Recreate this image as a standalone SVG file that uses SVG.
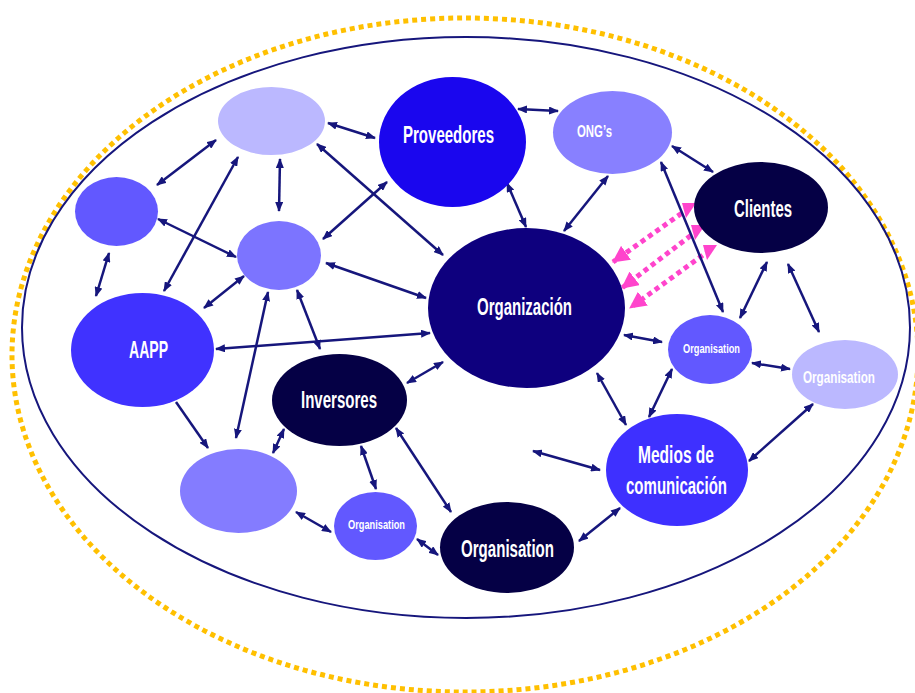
<svg xmlns="http://www.w3.org/2000/svg" width="915" height="693" viewBox="0 0 915 693">
<defs>
<marker id="ah" markerUnits="userSpaceOnUse" markerWidth="10" markerHeight="8" viewBox="0 0 10 8" refX="9" refY="4" orient="auto-start-reverse">
<path d="M0,0 L10,4 L0,8 z" fill="#16167c"/>
</marker>
<marker id="ph" markerUnits="userSpaceOnUse" markerWidth="17" markerHeight="17" viewBox="0 0 16 16" refX="15" refY="8" orient="auto">
<path d="M0,0 L16,8 L0,16 z" fill="#ff44cc"/>
</marker>
<marker id="pt" markerUnits="userSpaceOnUse" markerWidth="16" markerHeight="16" viewBox="0 0 16 16" refX="8" refY="5" orient="0">
<path d="M1,0 L15,0 L5,15 z" fill="#ff44cc"/>
</marker>
</defs>
<style>
.edge{stroke:#16167c;stroke-width:2.5;fill:none;marker-start:url(#ah);marker-end:url(#ah)}
.edge1{stroke:#16167c;stroke-width:2.5;fill:none;marker-end:url(#ah)}
.pink{stroke:#ff44cc;stroke-width:5;stroke-dasharray:5 4;fill:none;marker-start:url(#pt);marker-end:url(#ph)}
.lbl{font-family:"Liberation Sans","DejaVu Sans",sans-serif;font-weight:bold;fill:#ffffff;text-anchor:middle}
.c1{fill:#bbb8ff}.c2{fill:#6258ff}.c3{fill:#7c74ff}.c4{fill:#1a06ee}.c5{fill:#8880ff}
.c6{fill:#050045}.c7{fill:#0e007e}.c8{fill:#4032ff}.c9{fill:#847cff}.c10{fill:#3e30ff}
</style>
<rect width="915" height="693" fill="#ffffff"/>
<g id="frame">
<ellipse cx="465" cy="355" rx="453" ry="337" fill="none" stroke="#ffc000" stroke-width="5" stroke-dasharray="5 4"/>
<ellipse cx="466" cy="327.5" rx="444" ry="290.5" fill="none" stroke="#16167c" stroke-width="2"/>
</g>
<g id="connectors">
<path class="pink" d="M689,208 L613,262"/>
<path class="pink" d="M698,230 L622,288"/>
<path class="pink" d="M710,250 L630,308"/>
<line class="edge" x1="328" y1="123" x2="375" y2="138"/>
<line class="edge" x1="216" y1="140" x2="157" y2="185"/>
<line class="edge" x1="280" y1="159" x2="279" y2="211"/>
<line class="edge" x1="317" y1="144" x2="443" y2="255"/>
<line class="edge" x1="238" y1="157" x2="164" y2="291"/>
<line class="edge" x1="158" y1="219" x2="236" y2="257"/>
<line class="edge" x1="109" y1="253" x2="96" y2="296"/>
<line class="edge" x1="387" y1="182" x2="323" y2="239"/>
<line class="edge" x1="326" y1="263" x2="426" y2="298"/>
<line class="edge" x1="244" y1="276" x2="204" y2="308"/>
<line class="edge" x1="268" y1="292" x2="236" y2="438"/>
<line class="edge" x1="297" y1="290" x2="320" y2="349"/>
<line class="edge" x1="216" y1="349" x2="430" y2="333"/>
<line class="edge" x1="518" y1="109" x2="558" y2="111"/>
<line class="edge" x1="507" y1="183" x2="526" y2="227"/>
<line class="edge" x1="608" y1="176" x2="564" y2="231"/>
<line class="edge" x1="672" y1="146" x2="713" y2="172"/>
<line class="edge" x1="661" y1="162" x2="723" y2="312"/>
<line class="edge" x1="767" y1="262" x2="740" y2="318"/>
<line class="edge" x1="788" y1="264" x2="819" y2="332"/>
<line class="edge" x1="624" y1="335" x2="662" y2="342"/>
<line class="edge1" x1="176" y1="402" x2="208" y2="448"/>
<line class="edge" x1="273" y1="453" x2="284" y2="429"/>
<line class="edge" x1="296" y1="512" x2="331" y2="532"/>
<line class="edge" x1="361" y1="446" x2="376" y2="489"/>
<line class="edge" x1="396" y1="428" x2="451" y2="512"/>
<line class="edge" x1="417" y1="539" x2="438" y2="555"/>
<line class="edge" x1="407" y1="383" x2="443" y2="362"/>
<line class="edge" x1="597" y1="373" x2="626" y2="425"/>
<line class="edge" x1="672" y1="369" x2="649" y2="417"/>
<line class="edge" x1="752" y1="363" x2="790" y2="369"/>
<line class="edge" x1="813" y1="404" x2="749" y2="461"/>
<line class="edge" x1="533" y1="451" x2="600" y2="470"/>
<line class="edge" x1="579" y1="541" x2="620" y2="508"/>
</g>
<g id="n-top"><ellipse class="c1" cx="271.5" cy="121" rx="53.5" ry="34"/></g>
<g id="n-leftmid"><ellipse class="c2" cx="116.5" cy="211.5" rx="41.5" ry="34.5"/></g>
<g id="n-centersmall"><ellipse class="c3" cx="279" cy="255.5" rx="42" ry="34.5"/></g>
<g id="n-proveedores"><ellipse class="c4" cx="452.5" cy="142" rx="73.5" ry="65"/>
<text class="lbl" x="448.5" y="143" font-size="23" textLength="91" lengthAdjust="spacingAndGlyphs">Proveedores</text></g>
<g id="n-ongs"><ellipse class="c5" cx="612.5" cy="132.5" rx="59.5" ry="41.5"/>
<text class="lbl" x="594.5" y="137" font-size="17" textLength="35" lengthAdjust="spacingAndGlyphs">ONG’s</text></g>
<g id="n-clientes"><ellipse class="c6" cx="761" cy="207.5" rx="67" ry="45.5"/>
<text class="lbl" x="763" y="217" font-size="23" textLength="58" lengthAdjust="spacingAndGlyphs">Clientes</text></g>
<g id="n-organizacion"><ellipse class="c7" cx="526.5" cy="308" rx="98.5" ry="80"/>
<text class="lbl" x="524.5" y="315" font-size="23" textLength="95" lengthAdjust="spacingAndGlyphs">Organización</text></g>
<g id="n-aapp"><ellipse class="c8" cx="142.5" cy="350" rx="71.5" ry="57"/>
<text class="lbl" x="148.5" y="358" font-size="23" textLength="39" lengthAdjust="spacingAndGlyphs">AAPP</text></g>
<g id="n-inversores"><ellipse class="c6" cx="339.5" cy="400" rx="67.5" ry="46"/>
<text class="lbl" x="339" y="408" font-size="23" textLength="76" lengthAdjust="spacingAndGlyphs">Inversores</text></g>
<g id="n-bottomlight"><ellipse class="c9" cx="238.5" cy="491" rx="58.5" ry="42"/></g>
<g id="n-org-small-bottom"><ellipse class="c2" cx="375.5" cy="526" rx="41.5" ry="34"/>
<text class="lbl" x="376.5" y="529" font-size="13" textLength="57" lengthAdjust="spacingAndGlyphs">Organisation</text></g>
<g id="n-org-dark"><ellipse class="c6" cx="507" cy="547.5" rx="67" ry="45.5"/>
<text class="lbl" x="507.5" y="557" font-size="23" textLength="93" lengthAdjust="spacingAndGlyphs">Organisation</text></g>
<g id="n-medios"><ellipse class="c10" cx="677" cy="470" rx="71" ry="56"/>
<text class="lbl" x="676" y="463" font-size="23" textLength="76" lengthAdjust="spacingAndGlyphs">Medios de</text>
<text class="lbl" x="676.5" y="494" font-size="23" textLength="101" lengthAdjust="spacingAndGlyphs">comunicación</text></g>
<g id="n-org-small-right"><ellipse class="c2" cx="710" cy="349.5" rx="42" ry="34.5"/>
<text class="lbl" x="711.5" y="353" font-size="13" textLength="57" lengthAdjust="spacingAndGlyphs">Organisation</text></g>
<g id="n-org-light-right"><ellipse class="c1" cx="845" cy="374.5" rx="53" ry="34.5"/>
<text class="lbl" x="839" y="383" font-size="16" textLength="72" lengthAdjust="spacingAndGlyphs">Organisation</text></g>
</svg>
